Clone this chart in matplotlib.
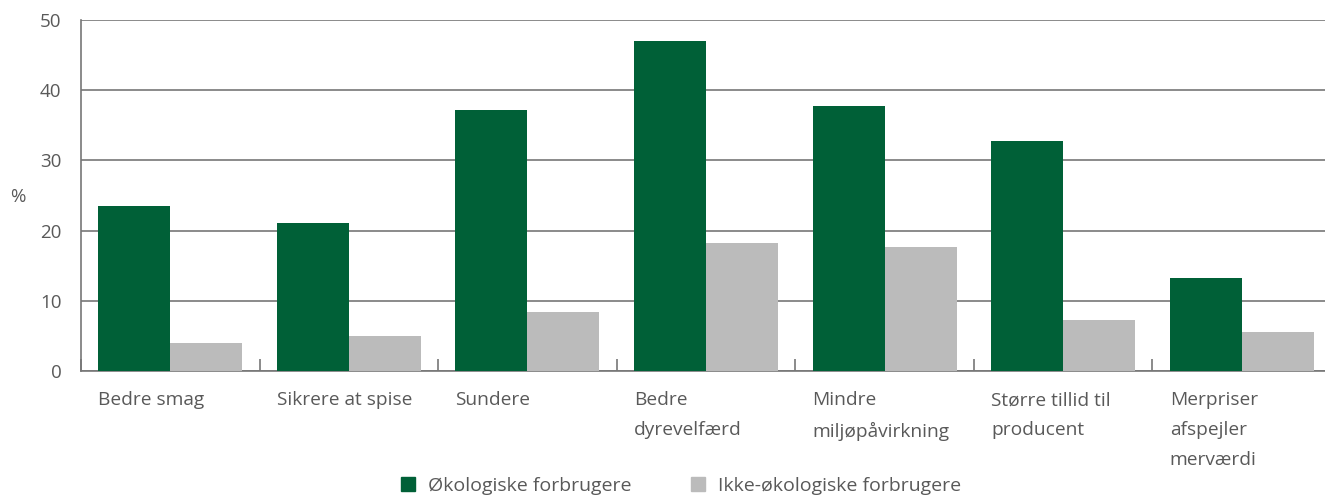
import numpy as np
import matplotlib.pyplot as plt
from matplotlib.patches import Patch

plt.rcParams['font.family'] = ['Open Sans', 'DejaVu Sans']

categories = ['Bedre smag', 'Sikrere at spise', 'Sundere', 'Bedre\ndyrevelfærd',
              'Mindre\nmiljøpåvirkning', 'Større tillid til\nproducent',
              'Merpriser\nafspejler\nmerværdi']
okologiske = [23.5, 21.1, 37.2, 47.0, 37.7, 32.8, 13.2]
ikke_okologiske = [4.0, 5.0, 8.4, 18.2, 17.7, 7.2, 5.5]
series_names = ['Økologiske forbrugere', 'Ikke-økologiske forbrugere']

GREEN = '#006037'
GREY = '#bbbbbb'
TEXT = '#595959'
LINE = '#777777'

fig = plt.figure(figsize=(13.25, 4.97), dpi=100)
# axis runs a bit past the right edge of the picture, as in the original
ax = fig.add_axes([81 / 1325, 1 - 371 / 497, 1250 / 1325, 351 / 497])

x = np.arange(len(categories))
w = 0.403
ax.bar(x + 0.5 - w, okologiske, width=w, align='edge', color=GREEN, zorder=3)
ax.bar(x + 0.5, ikke_okologiske, width=w, align='edge', color=GREY, zorder=3)

ax.set_xlim(0, len(categories))
ax.set_ylim(0, 50)
ax.set_yticks(range(0, 51, 10))
ax.yaxis.grid(True, color=LINE, linewidth=1.2, zorder=0)
ax.tick_params(axis='y', length=0, labelsize=13.5, colors=TEXT, pad=14)

# category separators as small inward ticks
ax.set_xticks(range(len(categories) + 1))
ax.set_xticklabels([])
ax.tick_params(axis='x', direction='in', length=9, width=1.2, color=LINE)

for i, lab in enumerate(categories):
    ax.text(i + 0.5 - w, -2.9, lab, ha='left', va='top', fontsize=13.8,
            color=TEXT, linespacing=1.85)

for s in ['top', 'right']:
    ax.spines[s].set_visible(False)
for s in ['left', 'bottom']:
    ax.spines[s].set_color(LINE)
    ax.spines[s].set_linewidth(1.2)

fig.text(18 / 1325, 1 - 197 / 497, '%', fontsize=13.5, color=TEXT, ha='center', va='center')

handles = [Patch(color=GREEN), Patch(color=GREY)]
fig.legend(handles, series_names, loc='center', bbox_to_anchor=(0.514, 1 - 486 / 497),
           ncol=2, frameon=False, fontsize=14, labelcolor=TEXT, borderpad=0,
           handlelength=0.72, handleheight=0.72, handletextpad=0.65, columnspacing=3.1)

fig.savefig('out.png', dpi=100)
